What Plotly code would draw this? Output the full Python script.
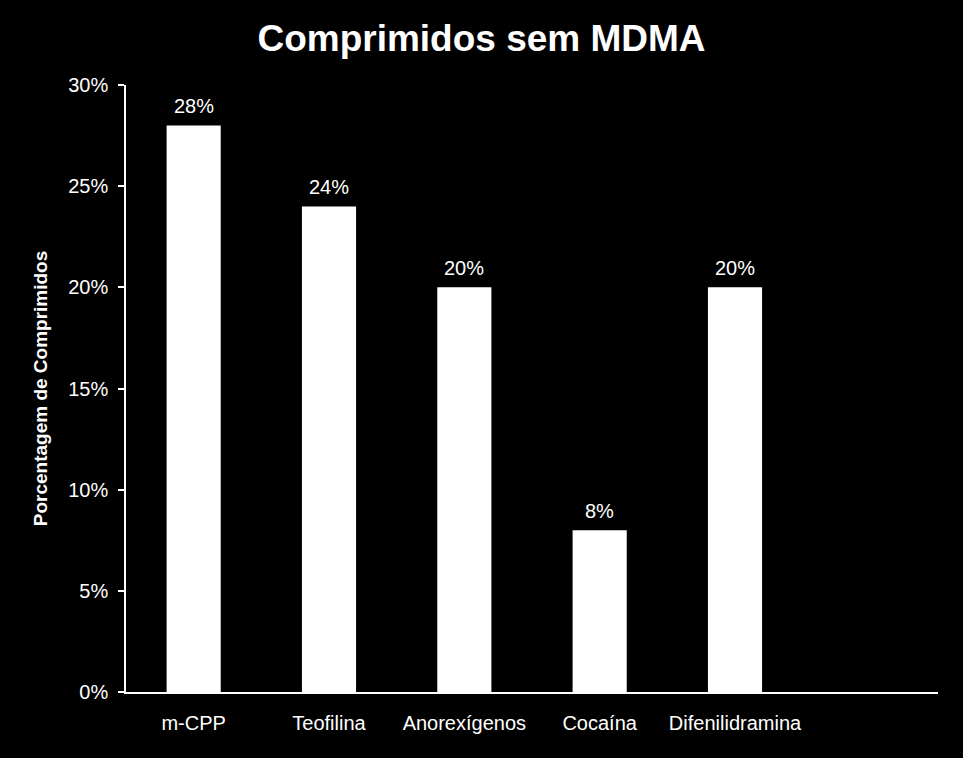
import plotly.graph_objects as go

# dados do gráfico
categorias = ['m-CPP', 'Teofilina', 'Anorexígenos', 'Cocaína', 'Difenilidramina', ' ']
valores = [28, 24, 20, 8, 20, None]
rotulos = ['28%', '24%', '20%', '8%', '20%', '']
ticks_y = [0, 5, 10, 15, 20, 25, 30]
ticks_y_txt = ['0%', '5%', '10%', '15%', '20%', '25%', '30%']

fig = go.Figure()

fig.add_trace(go.Bar(
    x=categorias,
    y=valores,
    marker=dict(color='white', line=dict(width=0)),
    hoverinfo='skip'
))

# rótulos acima das barras
for c, v, r in zip(categorias, valores, rotulos):
    if v is None:
        continue
    fig.add_annotation(
        x=c, y=v, text=r,
        showarrow=False,
        yanchor='bottom', yshift=6,
        font=dict(color='white', size=20)
    )

fig.update_layout(
    width=963,
    height=758,
    paper_bgcolor='black',
    plot_bgcolor='black',
    font=dict(family='Liberation Sans, Arial', color='white', size=20),
    title=dict(
        text='<b>Comprimidos sem MDMA</b>',
        x=0.5, xanchor='center',
        y=0.95, yanchor='middle',
        font=dict(size=37, color='white')
    ),
    margin=dict(l=126, r=25, t=85, b=66),
    bargap=0.6,
    showlegend=False
)

fig.update_yaxes(
    range=[0, 30],
    tickvals=ticks_y,
    ticktext=ticks_y_txt,
    showgrid=False,
    zeroline=False,
    showline=True,
    linecolor='white',
    linewidth=1.5,
    ticks='outside',
    ticklen=6,
    tickcolor='white',
    tickwidth=1.5,
    ticklabelstandoff=6,
    title=dict(
        text='<b>Porcentagem de Comprimidos</b>',
        font=dict(size=19, color='white'),
        standoff=16
    )
)

fig.update_xaxes(
    showgrid=False,
    showline=True,
    linecolor='white',
    linewidth=1.5,
    ticks='',
    ticklabelstandoff=12,
    tickfont=dict(size=20)
)

fig.write_html(
    "out.html",
    config={'displayModeBar': False},
    post_script="document.body.style.margin='0';document.body.style.background='black';"
)
